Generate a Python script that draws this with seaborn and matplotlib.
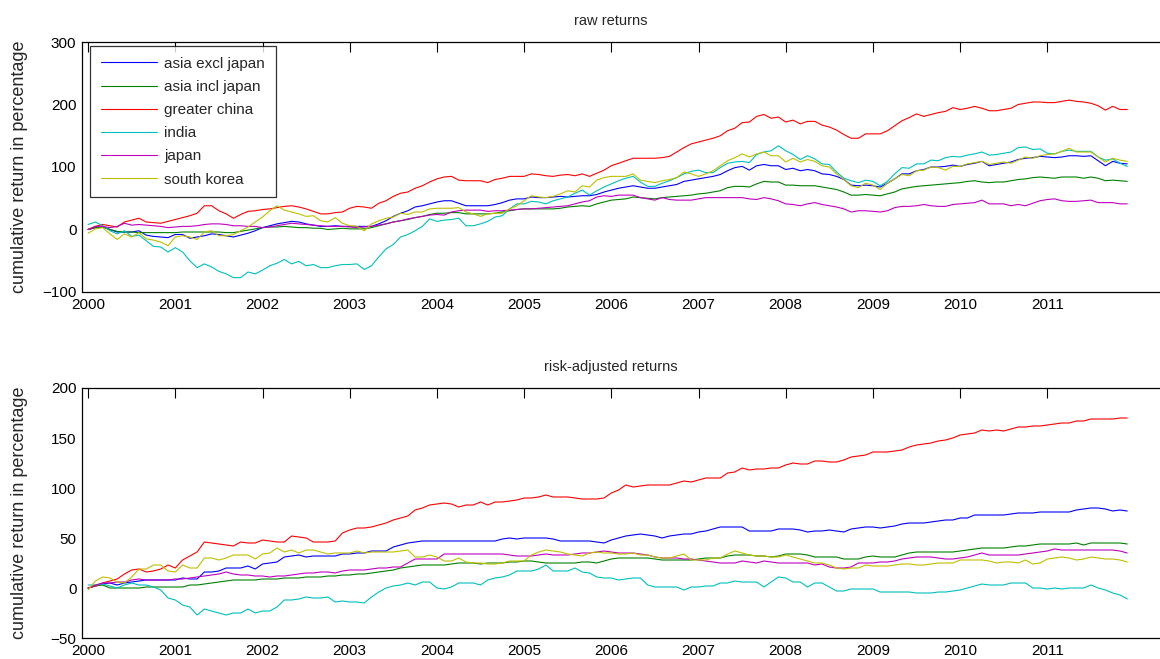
import numpy as np
import pandas as pd
import matplotlib
matplotlib.use("Agg")
import matplotlib.pyplot as plt
import seaborn as sns

regions = ['asia excl japan', 'asia incl japan', 'greater china', 'india', 'japan', 'south korea']
colors = ['#0000ff', '#008000', '#ff0000', '#00bfbf', '#bf00bf', '#bfbf00']
dates = pd.date_range('2000-01-01', periods=144, freq='MS')

# raw cumulative returns, monthly Jan 2000 - Dec 2011
raw_excl = [0, 3, 4, 0, -4, -4, -4, -2, -9, -11, -12, -13, -8, -8, -14, -12, -10, -7, -8, -10, -12, -9, -6, -2, 3,
            6, 9, 11, 13, 12, 9, 7, 5, 5, 6, 5, 5, 5, 5, 5, 9, 14, 21, 26, 30, 36, 38, 41, 44,
            46, 46, 42, 38, 38, 38, 38, 40, 43, 47, 49, 49, 52, 51, 51, 52, 53, 52, 53, 54, 54, 56, 60, 63,
            66, 68, 70, 68, 66, 66, 68, 70, 72, 77, 79, 81, 83, 85, 88, 94, 99, 101, 95, 102, 104, 102, 102, 96,
            98, 94, 96, 94, 89, 88, 85, 80, 71, 70, 71, 70, 68, 74, 81, 89, 89, 94, 96, 100, 100, 101, 103, 101,
            104, 106, 109, 102, 104, 106, 108, 112, 114, 115, 117, 116, 115, 116, 118, 118, 117, 118, 110, 102, 109, 106, 105]
raw_incl = [0, 3, 4, 0, -3, -4, -4, -5, -5, -5, -5, -5, -5, -4, -4, -4, -4, -4, -4, -5, -5, -3, -1, 1, 3,
            4, 4, 5, 4, 3, 3, 2, 2, 0, 1, 2, 1, 1, 1, 3, 6, 9, 12, 14, 16, 19, 21, 24, 26,
            26, 27, 27, 25, 25, 25, 25, 26, 28, 30, 32, 33, 33, 33, 33, 33, 34, 36, 37, 38, 37, 41, 44, 47,
            48, 49, 52, 51, 50, 49, 51, 52, 53, 54, 55, 57, 58, 60, 62, 67, 69, 69, 68, 73, 77, 76, 76, 71,
            71, 70, 70, 70, 68, 66, 64, 60, 55, 55, 56, 55, 54, 57, 60, 65, 67, 69, 70, 71, 72, 73, 74, 75,
            77, 78, 76, 75, 76, 76, 78, 80, 81, 83, 84, 83, 82, 84, 84, 84, 82, 84, 82, 78, 79, 78, 77]
raw_china = [0, 5, 8, 6, 4, 12, 15, 18, 12, 11, 10, 13, 16, 19, 22, 26, 38, 38, 30, 25, 18, 24, 29, 30, 32,
             33, 35, 37, 38, 36, 33, 29, 25, 25, 27, 28, 34, 37, 36, 34, 42, 46, 53, 58, 60, 66, 70, 76, 81,
             84, 85, 79, 78, 78, 78, 75, 80, 82, 85, 85, 85, 89, 88, 86, 85, 87, 88, 86, 89, 85, 90, 95, 102,
             106, 110, 114, 114, 114, 114, 115, 117, 124, 131, 137, 140, 143, 146, 150, 158, 162, 171, 172, 181, 184, 178, 180, 172,
             175, 169, 173, 173, 167, 164, 159, 152, 146, 146, 153, 153, 153, 158, 166, 174, 179, 185, 181, 184, 187, 189, 195, 192,
             194, 197, 194, 190, 190, 192, 194, 200, 202, 204, 204, 203, 203, 205, 207, 205, 204, 202, 198, 191, 197, 192, 192]
raw_india = [8, 12, 6, -2, -7, -2, -11, -9, -18, -27, -28, -36, -29, -36, -50, -61, -55, -60, -67, -71, -77, -77, -68, -71, -65,
             -58, -54, -48, -55, -51, -58, -56, -61, -61, -58, -56, -56, -55, -64, -58, -44, -31, -24, -12, -8, -2, 5, 17, 13,
             15, 16, 18, 6, 6, 9, 13, 20, 22, 33, 41, 41, 45, 44, 41, 46, 49, 52, 58, 63, 55, 62, 68, 73,
             78, 82, 85, 76, 69, 69, 74, 78, 83, 89, 93, 95, 91, 91, 99, 106, 108, 109, 107, 120, 124, 126, 134, 126,
             120, 112, 118, 113, 105, 104, 92, 82, 78, 75, 79, 77, 70, 77, 89, 99, 98, 105, 105, 111, 110, 115, 117, 116,
             119, 121, 124, 119, 120, 122, 124, 131, 132, 128, 129, 122, 121, 125, 127, 125, 125, 125, 116, 111, 113, 106, 101]
raw_japan = [0, 5, 5, 3, 5, 10, 7, 8, 7, 6, 5, 3, 4, 5, 5, 6, 8, 9, 9, 8, 6, 6, 5, 5, 3,
             4, 6, 8, 10, 9, 8, 7, 6, 5, 5, 5, 4, 3, 4, 5, 7, 9, 12, 14, 17, 19, 21, 23, 24,
             23, 28, 30, 31, 31, 31, 29, 30, 30, 31, 32, 33, 33, 34, 35, 36, 37, 38, 41, 44, 46, 52, 54, 53,
             55, 55, 55, 51, 49, 47, 51, 48, 47, 47, 47, 49, 51, 51, 51, 51, 51, 51, 49, 48, 51, 49, 46, 41,
             40, 38, 41, 43, 40, 38, 36, 33, 28, 30, 30, 29, 28, 30, 35, 37, 37, 38, 40, 38, 37, 37, 40, 41,
             42, 43, 47, 41, 41, 41, 38, 40, 38, 42, 46, 48, 49, 46, 45, 45, 46, 47, 43, 43, 43, 41, 41]
raw_korea = [-6, 1, 3, -7, -16, -7, -12, -5, -15, -17, -20, -26, -12, -10, -12, -16, -4, -2, -10, -10, -8, -2, 4, 12, 20,
             30, 38, 31, 28, 25, 21, 22, 14, 12, 19, 10, 6, 5, -2, 9, 14, 18, 20, 26, 24, 28, 28, 33, 34,
             34, 34, 35, 28, 25, 21, 25, 26, 26, 33, 38, 46, 54, 52, 51, 53, 57, 62, 60, 70, 68, 79, 83, 85,
             85, 85, 89, 79, 77, 75, 78, 80, 83, 92, 89, 85, 89, 94, 102, 110, 115, 121, 116, 121, 124, 118, 118, 108,
             114, 108, 112, 109, 102, 100, 89, 80, 70, 67, 74, 71, 64, 74, 81, 88, 86, 94, 95, 100, 99, 95, 101, 101,
             105, 107, 109, 104, 106, 108, 106, 111, 116, 114, 118, 120, 121, 125, 130, 124, 124, 124, 116, 108, 114, 111, 109]

# risk-adjusted cumulative returns
adj_excl = [0, 2, 4, 5, 3, 5, 6, 7, 8, 8, 8, 8, 8, 10, 9, 9, 16, 16, 17, 20, 20, 20, 22, 19, 24, 25, 26, 31, 32, 33,
            31, 32, 32, 32, 32, 34, 34, 35, 35, 37, 37, 37, 41, 43, 45, 46, 47, 47, 47, 47, 47, 47,
            47, 47, 47, 47, 47, 49, 50, 49, 50, 50, 50, 50, 49, 47, 47, 47, 47, 47, 46, 45, 48, 50, 52, 53, 54, 53, 52, 50, 52, 53,
            54, 54, 56, 57, 59, 61, 61, 61, 61, 57, 57, 57, 57, 59, 59, 59, 58, 56, 57,
            57, 58, 57, 56, 59, 60, 61, 61, 60, 61, 62, 64, 65, 65, 65, 66, 67, 68, 68, 70, 70, 73, 73, 73, 73, 73, 74, 75, 75, 75,
            76, 76, 76, 76, 76, 78, 79, 80, 80, 79, 77, 78, 77]
adj_incl = [0, 2, 3, 0, 0, 0, 0, 0, 1, 1, 1, 1, 1, 1, 3, 3, 4, 5, 6, 7, 8, 8, 8, 8, 9, 9, 9, 10, 10, 10,
            11, 11, 11, 12, 12, 13, 13, 14, 14, 15, 16, 17, 18, 20, 21, 22, 23, 23, 23, 23, 24, 25,
            25, 25, 24, 25, 25, 25, 26, 26, 27, 27, 26, 25, 25, 25, 25, 25, 26, 26, 25, 27, 29, 30, 30, 30, 30, 30, 29, 28, 28, 28,
            28, 28, 29, 30, 30, 30, 32, 33, 33, 33, 32, 32, 31, 32, 34, 34, 34, 33, 31,
            31, 31, 31, 29, 29, 29, 31, 32, 31, 31, 31, 33, 35, 36, 36, 36, 36, 36, 36, 37, 38, 39, 40, 40, 40, 40, 41, 42, 42, 43,
            44, 44, 44, 44, 44, 45, 43, 45, 45, 45, 45, 45, 44]
adj_china = [0, 2, 5, 7, 9, 14, 18, 19, 16, 17, 19, 23, 20, 28, 32, 36, 46, 45, 44, 43, 42, 46, 45, 45, 48, 47, 46, 46, 52, 51,
             50, 46, 46, 46, 47, 55, 58, 60, 60, 61, 63, 65, 68, 70, 72, 78, 80, 83, 84, 85, 84, 81,
             83, 83, 86, 83, 86, 86, 87, 88, 90, 90, 91, 93, 91, 91, 91, 90, 89, 89, 89, 90, 95, 98, 103, 101, 102, 103, 103, 103, 103, 105,
             107, 106, 108, 110, 110, 110, 115, 116, 120, 118, 119, 119, 120, 120, 123, 125, 124, 124, 127,
             127, 126, 126, 128, 131, 132, 133, 136, 136, 136, 137, 138, 141, 143, 144, 145, 147, 148, 150, 153, 154, 155, 158, 157, 158, 157, 159, 161, 161, 162,
             162, 163, 164, 165, 165, 167, 167, 169, 169, 169, 169, 170, 170]
adj_india = [3, 3, 4, 2, 0, 3, 5, 3, 3, 1, -2, -10, -12, -17, -19, -27, -21, -23, -25, -27, -25, -25, -21, -25, -23, -23, -19, -12, -12, -11,
             -9, -10, -10, -9, -14, -13, -14, -14, -15, -9, -4, 0, 2, 3, 5, 3, 6, 6, 0, -1, 1, 5,
             5, 5, 3, 8, 10, 11, 13, 17, 17, 17, 19, 23, 17, 17, 17, 20, 16, 15, 11, 10, 10, 8, 9, 10, 10, 3, 1, 1, 1, 1,
             -2, 1, 1, 2, 2, 5, 5, 7, 6, 6, 6, 1, 6, 11, 10, 6, 6, 1, 5,
             5, 1, -3, -3, -1, -1, -1, -1, -4, -4, -4, -4, -4, -5, -5, -5, -4, -4, -3, -2, 0, 2, 4, 3, 3, 3, 5, 5, 5, 0,
             0, -1, 0, -1, 0, 0, 0, 3, 0, -2, -5, -7, -11]
adj_japan = [0, 3, 5, 5, 6, 6, 8, 9, 8, 8, 8, 8, 9, 9, 10, 11, 12, 13, 14, 16, 14, 13, 13, 12, 12, 11, 12, 12, 13, 14,
             15, 15, 16, 16, 15, 17, 18, 18, 18, 19, 20, 20, 21, 21, 25, 29, 29, 29, 29, 34, 34, 34,
             34, 34, 34, 34, 34, 34, 33, 32, 32, 32, 33, 34, 33, 33, 33, 34, 35, 35, 36, 37, 36, 35, 35, 35, 34, 33, 31, 30, 30, 30,
             29, 29, 28, 27, 26, 25, 25, 25, 27, 26, 25, 27, 26, 25, 25, 25, 25, 25, 23,
             24, 21, 20, 20, 21, 25, 25, 25, 26, 26, 27, 29, 30, 31, 31, 31, 30, 29, 29, 30, 31, 33, 35, 33, 33, 33, 33, 33, 34, 35,
             36, 37, 39, 38, 38, 38, 38, 38, 38, 38, 38, 37, 35]
adj_korea = [-2, 7, 11, 10, 6, 5, 11, 19, 19, 23, 23, 17, 16, 23, 20, 20, 30, 30, 28, 30, 33, 33, 33, 29, 34, 35, 40, 36, 38, 35,
             38, 38, 36, 34, 35, 35, 35, 37, 35, 36, 36, 36, 36, 37, 38, 31, 31, 33, 31, 27, 27, 30,
             26, 25, 25, 24, 24, 25, 27, 27, 27, 33, 36, 38, 37, 36, 34, 33, 32, 35, 36, 35, 35, 34, 34, 35, 33, 33, 31, 30, 30, 32,
             34, 28, 28, 28, 30, 30, 34, 37, 35, 33, 32, 32, 31, 31, 33, 31, 29, 27, 25,
             25, 23, 20, 19, 20, 20, 23, 22, 22, 22, 23, 24, 24, 23, 23, 24, 25, 25, 25, 28, 28, 28, 28, 27, 25, 26, 26, 25, 28, 24,
             25, 29, 30, 31, 30, 28, 29, 31, 30, 29, 29, 28, 26]

raw = [raw_excl, raw_incl, raw_china, raw_india, raw_japan, raw_korea]
adj = [adj_excl, adj_incl, adj_china, adj_india, adj_japan, adj_korea]
for s in raw + adj:
    assert len(s) == 144, len(s)

years = dates.year + (dates.month - 1) / 12.0


def make_long(series):
    frames = []
    for name, vals in zip(regions, series):
        frames.append(pd.DataFrame({'year': years, 'value': vals, 'region': name}))
    return pd.concat(frames, ignore_index=True)


sns.set_style("white")
plt.rcParams['font.family'] = ['Liberation Sans', 'DejaVu Sans']

fig = plt.figure(figsize=(11.6, 6.59), dpi=100)
W, H = 1160.0, 659.0
# axes run past the right edge of the picture, as in the reference
ax1 = fig.add_axes([82 / W, 1 - 292 / H, 1100 / W, 250 / H])
ax2 = fig.add_axes([82 / W, 1 - 638 / H, 1100 / W, 250 / H])

pal = dict(zip(regions, colors))
sns.lineplot(data=make_long(raw), x='year', y='value', hue='region', palette=pal,
             linewidth=0.8, ax=ax1)
sns.lineplot(data=make_long(adj), x='year', y='value', hue='region', palette=pal,
             linewidth=0.8, ax=ax2, legend=False)

title_x = (611 - 82) / 1100.0
for ax, title, ylim, yt in [(ax1, 'raw returns', (-100, 300), [-100, 0, 100, 200, 300]),
                            (ax2, 'risk-adjusted returns', (-50, 200), [-50, 0, 50, 100, 150, 200])]:
    ax.set_xlim(1999.93, 1999.93 + 1100 / 87.2)
    ax.set_ylim(*ylim)
    ax.set_yticks(yt)
    ax.set_xticks(range(2000, 2012))
    ax.set_xlabel('')
    ax.set_ylabel('cumulative return in percentage', fontsize=13)
    ax.yaxis.set_label_coords((28 - 82) / 1100.0, 0.5)
    ax.set_title(title, fontsize=10.5, pad=12.5, x=title_x)
    ax.tick_params(direction='in', top=True, right=True, length=7, width=0.8,
                   labelsize=11, pad=4, colors='black')
    for sp in ax.spines.values():
        sp.set_color('black')
        sp.set_linewidth(0.9)

leg = ax1.legend(loc='upper left', bbox_to_anchor=(8 / 1100, 1 - 4 / 250), borderaxespad=0,
                 frameon=True, fancybox=False, edgecolor='black', fontsize=11,
                 handlelength=3.7, handletextpad=0.45, labelspacing=0.6, borderpad=0.7)
leg.get_frame().set_linewidth(0.9)
for line in leg.get_lines():
    line.set_linewidth(0.8)

fig.savefig('out.png', dpi=100)
